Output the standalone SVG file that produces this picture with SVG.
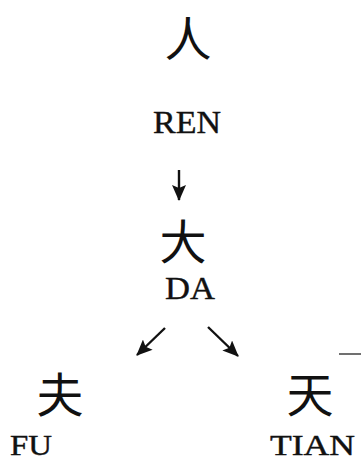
<svg xmlns="http://www.w3.org/2000/svg" width="361" height="463" viewBox="0 0 361 463">
  <style>
    .han { font-family: "Noto Sans CJK SC", "Noto Sans CJK JP", sans-serif; font-size: 47px; fill: #111; text-anchor: middle; dominant-baseline: central; }
    .lat { font-family: "Liberation Serif", "Times New Roman", serif; font-size: 31px; fill: #111; stroke: #111; stroke-width: 0.4; }
    .low { font-size: 29px; }
    .arr { stroke: #111; stroke-width: 2.4; fill: none; }
  </style>
  <defs>
    <marker id="ah" viewBox="0 0 16 14" refX="15" refY="7" markerWidth="16" markerHeight="14" markerUnits="userSpaceOnUse" orient="auto">
      <path d="M0,0 L16,7 L0,14 L3,7 Z" fill="#111"/>
    </marker>
  </defs>
  <rect width="361" height="463" fill="#fff"/>
  <g id="ren">
    <text class="han" x="188" y="35">人</text>
    <text class="lat" x="153" y="133" textLength="68" lengthAdjust="spacingAndGlyphs">REN</text>
  </g>
  <g id="da">
    <text class="han" x="183" y="238">大</text>
    <text class="lat" x="165" y="299" textLength="50" lengthAdjust="spacingAndGlyphs">DA</text>
  </g>
  <g id="fu">
    <text class="han" x="60" y="391">夫</text>
    <text class="lat low" x="10" y="455" textLength="42" lengthAdjust="spacingAndGlyphs">FU</text>
  </g>
  <g id="tian">
    <text class="han" x="310" y="391">天</text>
    <text class="lat low" x="270" y="455" textLength="85" lengthAdjust="spacingAndGlyphs">TIAN</text>
  </g>
  <g id="connectors">
    <line class="arr" x1="179" y1="170" x2="179" y2="200" marker-end="url(#ah)"/>
    <line class="arr" x1="165" y1="328" x2="137" y2="355" marker-end="url(#ah)"/>
    <line class="arr" x1="208" y1="327" x2="238" y2="356" marker-end="url(#ah)"/>
  </g>
  <line x1="339" y1="354" x2="361" y2="354" stroke="#333" stroke-width="1.4"/>
</svg>
